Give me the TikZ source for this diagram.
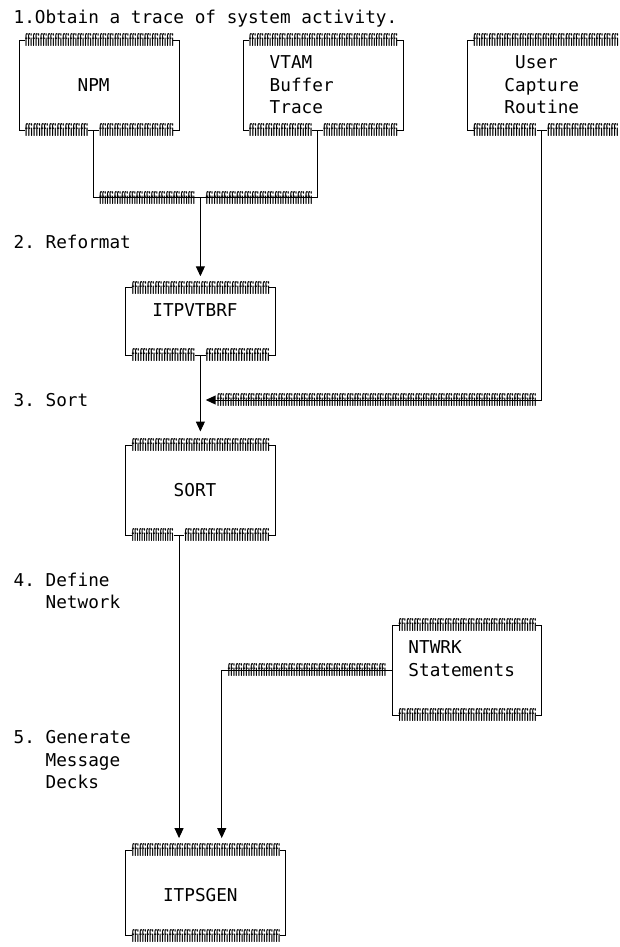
\documentclass[tikz,border=0pt]{standalone}
\usepackage{graphicx}
\usepackage{fontspec}
\setmonofont{DejaVu Sans Mono}
\usetikzlibrary{arrows.meta}
\newcommand\mono{\fontsize{17.7}{22.5}\selectfont\ttfamily}
\newcount\ffn
\newcommand\ffrun[1]{\ffn=0 \loop\ifnum\ffn<#1 {\sffamily\bfseries ffi}\advance\ffn by 1 \repeat}
% \hrun{name}{x1}{x2}{row}
\newcommand\hrun[4]{%
  \pgfmathtruncatemacro\nglyph{round((#3-#2)*10.67/7.6)}%
  \pgfmathsetmacro\runw{(#3-#2)*10.67}%
  \node[run] (#1) at (#2,#4) {\resizebox{\runw pt}{13pt}{\ffrun{\nglyph}}};}
% \mybxfr{left}{right}{top}{bottom}: verticals and corner ticks
\newcommand\mybxfr[4]{%
  \draw[frame] (#1+0.6,#3) -- (#1,#3) -- (#1,#4) -- (#1+0.6,#4);
  \draw[frame] (#2-0.55,#3) -- (#2,#3) -- (#2,#4) -- (#2-0.55,#4);}
\begin{document}
\begin{tikzpicture}[x=10.67pt,y=-22.5pt,
  frame/.style={line width=1pt,draw=black},
  conn/.style={line width=1pt,draw=black},
  arr/.style={conn,-{Triangle[width=9pt,length=10pt]}},
  txt/.style={anchor=base west,inner sep=0pt,outer sep=0pt,font=\mono},
  run/.style={anchor=west,inner sep=0pt,outer sep=0pt}]
\useasboundingbox (-1.7807,-0.7778) rectangle (56.2324,41.311);
\clip (-1.7807,-0.7778) rectangle (56.2324,41.311);
\def\bl{0.287}
% ---------- texts
\node[txt] (title) at (-0.5,0+\bl) {1.Obtain a trace of system activity.};
\node[txt] (s2) at (-0.5,10+\bl) {2. Reformat};
\node[txt] (s3) at (-0.5,17+\bl) {3. Sort};
\node[txt] (s4) at (-0.5,25+\bl) {4. Define};
\node[txt] (s4b) at (2.5,26+\bl) {Network};
\node[txt] (s5) at (-0.5,32+\bl) {5. Generate};
\node[txt] (s5b) at (2.5,33+\bl) {Message};
\node[txt] (s5c) at (2.5,34+\bl) {Decks};
% ---------- NPM box
\mybxfr{0}{15}{1}{5}
\hrun{npmtop}{0.55}{14.5}{1}
\hrun{npmbl}{0.55}{6.5}{5}
\hrun{npmbr}{7.5}{14.5}{5}
\node[txt] (npm) at (5.5,3+\bl) {NPM};
\coordinate (npmT) at (7,5);
% ---------- VTAM box
\mybxfr{21}{36}{1}{5}
\hrun{vtamtop}{21.55}{35.5}{1}
\hrun{vtambl}{21.55}{27.5}{5}
\hrun{vtambr}{28.5}{35.5}{5}
\node[txt] (vtam1) at (23.5,2+\bl) {VTAM};
\node[txt] (vtam2) at (23.5,3+\bl) {Buffer};
\node[txt] (vtam3) at (23.5,4+\bl) {Trace};
\coordinate (vtamT) at (28,5);
% ---------- User box (cut at the right edge)
\draw[frame] (42.6,1) -- (42,1) -- (42,5) -- (42.6,5);
\hrun{usertop}{42.55}{56.2}{1}
\hrun{userbl}{42.55}{48.5}{5}
\hrun{userbr}{49.5}{56.2}{5}
\node[txt] (user1) at (46.5,2+\bl) {User};
\node[txt] (user2) at (45.5,3+\bl) {Capture};
\node[txt] (user3) at (45.5,4+\bl) {Routine};
\coordinate (userT) at (49,5);
\draw[frame] (48.5,5) -- (49.5,5);
% ---------- merge of NPM and VTAM
\draw[frame] (6.5,5) -- (7.5,5) (27.5,5) -- (28.5,5);
\coordinate (mergeT) at (17,8);
\draw[conn] (npmT) |- (mergeT) -| (vtamT);
\hrun{mergel}{7.5}{16.5}{8}
\hrun{merger}{17.5}{27.5}{8}
\coordinate (itpvIn) at (17,11.5);
\draw[arr] (mergeT) -- (itpvIn);
% ---------- ITPVTBRF box
\mybxfr{10}{24}{12}{15}
\hrun{itpvtop}{10.55}{23.5}{12}
\hrun{itpvbl}{10.55}{16.5}{15}
\hrun{itpvbr}{17.5}{23.5}{15}
\draw[frame] (16.5,15) -- (17.5,15);
\node[txt] (itpv) at (12.5,13+\bl) {ITPVTBRF};
\coordinate (itpvT) at (17,15);
\coordinate (sortIn) at (17,18.4);
\draw[arr] (itpvT) -- (sortIn);
% ---------- user capture line to sort
\coordinate (userCorner) at (49,17);
\coordinate (userIn) at (17.5,17);
\draw[arr] (userT) -- (userCorner) -- (userIn);
\hrun{userline}{18.55}{48.5}{17}
% ---------- SORT box
\mybxfr{10}{24}{19}{23}
\hrun{sorttop}{10.55}{23.5}{19}
\hrun{sortbl}{10.55}{14.5}{23}
\hrun{sortbr}{15.5}{23.5}{23}
\draw[frame] (14.5,23) -- (15.5,23);
\node[txt] (sort) at (14.5,21+\bl) {SORT};
\coordinate (sortT) at (15,23);
% ---------- NTWRK box
\mybxfr{35}{49}{27}{31}
\hrun{ntwtop}{35.55}{48.5}{27}
\hrun{ntwbot}{35.55}{48.5}{31}
\node[txt] (ntw1) at (36.5,28+\bl) {NTWRK};
\node[txt] (ntw2) at (36.5,29+\bl) {Statements};
\coordinate (ntwL) at (35,29);
\coordinate (ntwCorner) at (19,29);
\coordinate (genIn2) at (19,36.47);
\draw[arr] (ntwL) -- (ntwCorner) -- (genIn2);
\hrun{ntwline}{19.55}{34.4}{29}
% ---------- SORT to ITPSGEN
\coordinate (genIn1) at (15,36.47);
\draw[arr] (sortT) -- (genIn1);
% ---------- ITPSGEN box
\mybxfr{10}{25}{37}{40.8}
\hrun{gentop}{10.55}{24.5}{37}
\hrun{genbot}{10.55}{24.5}{40.8}
\node[txt] (gen) at (13.5,39+\bl) {ITPSGEN};
\end{tikzpicture}
\end{document}
